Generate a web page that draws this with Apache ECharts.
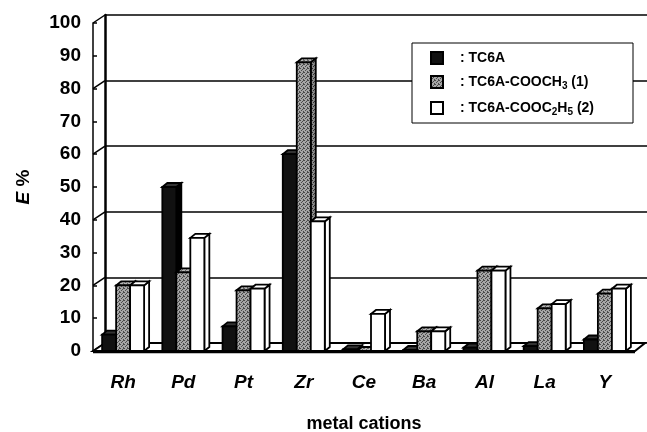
<!DOCTYPE html>
<html>
<head>
<meta charset="utf-8" />
<title>ECharts</title>
<style>
    html, body { margin: 0; padding: 0; background: #fff; }
    #main { width: 647px; height: 432px; }
</style>
</head>
<body>
<div id="main"></div>
<script src="https://cdn.jsdelivr.net/npm/echarts@6/dist/echarts.min.js"></script>
<script type="text/javascript">
    // data
    var cations = ['Rh', 'Pd', 'Pt', 'Zr', 'Ce', 'Ba', 'Al', 'La', 'Y'];
    var tc6a = [5, 50, 7.5, 60, 0.5, 0.3, 1, 1.5, 3.5];
    var cooch3 = [20, 24, 18.5, 88, 0, 6, 24.5, 13, 17.5];
    var cooc2h5 = [20, 34.5, 19, 39.5, 11.3, 6, 24.5, 14.3, 19];
    var seriesNames = ['TC6A', 'TC6A-COOCH3 (1)', 'TC6A-COOC2H5 (2)'];
    var legendText = {
        'TC6A': '{t|: TC6A}',
        'TC6A-COOCH3 (1)': '{t|: TC6A-COOCH}{s|3}{t| (1)}',
        'TC6A-COOC2H5 (2)': '{t|: TC6A-COOC}{s|2}{t|H}{s|5}{t| (2)}'
    };

    // layout of the fake 3d box
    var FL = 93, FR = 12, FT = 23, FB = 81;   // front plane
    var DX = 12, DY = 8;                      // wall depth
    var W = 647, H = 432;
    var BW = 14, BDX = 5, BDY = 4;            // bar width / bar depth
    var font = '"Liberation Sans", Arial, sans-serif';

    // dotted grey like the scanned print
    function dots(base, dark) {
        var c = document.createElement('canvas');
        c.width = 4; c.height = 4;
        var ctx = c.getContext('2d');
        ctx.fillStyle = base;
        ctx.fillRect(0, 0, 4, 4);
        ctx.fillStyle = dark;
        [[0, 0], [2, 1], [1, 2], [3, 3], [3, 0]].forEach(function (p) {
            ctx.fillRect(p[0], p[1], 1, 1);
        });
        return { image: c, repeat: 'repeat' };
    }

    var faces = [
        { front: '#111', top: '#333', side: '#000' },
        { front: dots('#a6a6a6', '#4a4a4a'), top: dots('#b4b4b4', '#666'), side: dots('#8a8a8a', '#333') },
        { front: '#fff', top: '#fff', side: '#fff' }
    ];

    function makeRender(s) {
        return function (params, api) {
            var idx = api.value(0);
            var top = api.coord([idx, api.value(1)]);
            var bot = api.coord([idx, 0]);
            var x0 = top[0] - 21 + s * BW, x1 = x0 + BW;
            var yt = top[1], yb = bot[1];
            var f = faces[s];
            var line = { stroke: '#000', lineWidth: 1.8 };
            return {
                type: 'group',
                children: [
                    { type: 'polygon', shape: { points: [[x1, yb], [x1, yt], [x1 + BDX, yt - BDY], [x1 + BDX, yb - BDY]] },
                      style: Object.assign({ fill: f.side }, line) },
                    { type: 'polygon', shape: { points: [[x0, yt], [x0 + BDX, yt - BDY], [x1 + BDX, yt - BDY], [x1, yt]] },
                      style: Object.assign({ fill: f.top }, line) },
                    { type: 'rect', shape: { x: x0, y: yt, width: BW, height: yb - yt },
                      style: Object.assign({ fill: f.front }, line) }
                ]
            };
        };
    }

    function pairs(arr) {
        return arr.map(function (v, i) { return [i, v]; });
    }

    var plotH = H - FT - FB;
    var yFront = function (v) { return H - FB - v / 100 * plotH; };
    var walls = [];
    [0, 20, 40, 60, 80, 100].forEach(function (v) {
        walls.push({
            type: 'line',
            shape: { x1: FL, y1: yFront(v), x2: FL + DX, y2: yFront(v) - DY },
            style: { stroke: '#000', lineWidth: 1.5 }
        });
    });
    // floor slab
    walls.push({
        type: 'polygon',
        shape: { points: [[FL, H - FB], [FL + DX, H - FB - DY], [W - FR + DX - 2, H - FB - DY], [W - FR, H - FB]] },
        style: { fill: '#fff', stroke: '#000', lineWidth: 2 }
    });
    walls.push({
        type: 'line',
        shape: { x1: FL, y1: H - FB + 1, x2: W - FR, y2: H - FB + 1 },
        style: { stroke: '#000', lineWidth: 2.5 }
    });

    var chart = echarts.init(document.getElementById('main'));
    var option = {
        animation: false,
        backgroundColor: '#fff',
        textStyle: { fontFamily: font },
        grid: [
            { left: FL, right: FR, top: FT, bottom: FB, outerBoundsMode: 'none' },
            { left: FL + DX, right: FR - DX, top: FT - DY, bottom: FB + DY, outerBoundsMode: 'none' }
        ],
        legend: {
            orient: 'vertical',
            left: 412,
            top: 43,
            backgroundColor: '#fff',
            borderColor: '#000',
            borderWidth: 1,
            padding: [8, 39, 6, 18],
            itemWidth: 12,
            itemHeight: 12,
            itemGap: 10,
            icon: 'rect',
            formatter: function (name) { return legendText[name]; },
            textStyle: {
                fontFamily: font, fontWeight: 'bold', fontSize: 14, color: '#000', padding: [0, 0, 0, 12],
                rich: {
                    t: { fontFamily: font, fontWeight: 'bold', fontSize: 14, color: '#000', lineHeight: 18, verticalAlign: 'middle' },
                    s: { fontFamily: font, fontWeight: 'bold', fontSize: 10, color: '#000', lineHeight: 18, verticalAlign: 'bottom', padding: [6, 0, 0, 0] }
                }
            },
            data: seriesNames
        },
        xAxis: [
            {
                type: 'category',
                gridIndex: 0,
                data: cations,
                axisLine: { show: false },
                axisTick: { show: false },
                axisLabel: { margin: 22, fontSize: 19, fontWeight: 'bold', fontStyle: 'italic', color: '#000', fontFamily: font },
                name: 'metal cations',
                nameLocation: 'middle',
                nameGap: 64,
                nameTextStyle: { fontSize: 18, fontWeight: 'bold', color: '#000', fontFamily: font }
            },
            {
                type: 'category',
                gridIndex: 1,
                data: cations,
                axisLine: { show: false },
                axisTick: { show: false },
                axisLabel: { show: false }
            }
        ],
        yAxis: [
            {
                type: 'value',
                gridIndex: 0,
                min: 0,
                max: 100,
                interval: 10,
                axisLine: { show: true, onZero: false, lineStyle: { color: '#000', width: 1.5 } },
                axisTick: { show: true, inside: true, length: 4, lineStyle: { color: '#000', width: 1.5 } },
                splitLine: { show: false },
                axisLabel: { margin: 12, fontSize: 19, fontWeight: 'bold', color: '#000', fontFamily: font },
                name: '{e|E} %',
                nameLocation: 'middle',
                nameGap: 60,
                nameRotate: 90,
                nameTextStyle: {
                    fontSize: 19, fontWeight: 'bold', color: '#000', fontFamily: font,
                    rich: { e: { fontSize: 19, fontWeight: 'bold', fontStyle: 'italic', fontFamily: font } }
                }
            },
            {
                type: 'value',
                gridIndex: 1,
                min: 0,
                max: 100,
                interval: 20,
                axisLine: { show: true, onZero: false, lineStyle: { color: '#000', width: 2.5 } },
                axisTick: { show: false },
                axisLabel: { show: false },
                splitLine: { show: true, lineStyle: { color: '#000', width: 1.5 } }
            }
        ],
        graphic: walls,
        series: [tc6a, cooch3, cooc2h5].map(function (arr, s) {
            return {
                name: seriesNames[s],
                type: 'custom',
                xAxisIndex: 0,
                yAxisIndex: 0,
                renderItem: makeRender(s),
                itemStyle: { color: faces[s].front, borderColor: '#000', borderWidth: 1.3 },
                encode: { x: 0, y: 1 },
                data: pairs(arr)
            };
        })
    };
    chart.setOption(option);
</script>
</body>
</html>
